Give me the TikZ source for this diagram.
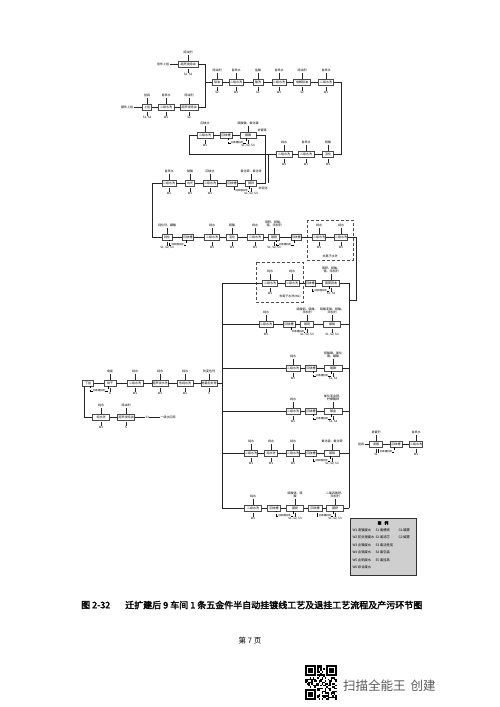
\documentclass[tikz,border=0pt]{standalone}
\usepackage{fontspec}
\newfontfamily\cjk{Noto Sans CJK SC}
\newfontfamily\cjkb[FakeBold=2.5]{Noto Sans CJK SC}
\usetikzlibrary{calc}
\newcommand{\procbox}[7]{%
  \node[pbox, minimum width=#4pt] (#1) at (#2,#3) {#5};
  \if\relax\detokenize{#6}\relax\else
    \node[lbl, anchor=south] (#1u) at (#2,#3-9.5) {#6};
    \draw[cl] (#1u.south) -- (#1.north);
  \fi
  \if\relax\detokenize{#7}\relax\else
    \node[lbl, anchor=north] (#1d) at (#2,#3+9) {#7};
    \draw[cl] (#1.south) ++(0,1.2) -- (#1d.north);
  \fi}
\newcommand{\recloop}[2]{%
  \draw[dl] ([xshift=-2pt]#1.south) -- ++(0,4.5) -| node[looptext, pos=0.25]{回收槽回用} ([xshift=2pt]#2.south);}
\begin{document}
\begin{tikzpicture}[x=1pt,y=-1pt,
  pbox/.style={draw=black!70, line width=0.8pt, fill=white, minimum height=6pt, inner sep=0.4pt, font=\cjk\fontsize{3}{3.4}\selectfont},
  lbl/.style={inner sep=0.3pt, align=center, font=\cjk\fontsize{3}{3.6}\selectfont},
  cl/.style={line width=0.6pt, draw=black!85},
  dl/.style={densely dashed, line width=0.35pt},
  looptext/.style={inner sep=0.2pt, font=\cjk\fontsize{2.4}{2.6}\selectfont, fill=white},
  dbox/.style={densely dashed, line width=0.45pt, draw=black!70},
  lg/.style={anchor=west, inner sep=0.3pt, font=\cjk\fontsize{3.3}{3.6}\selectfont}
]
\fill[white] (0,0) rectangle (499,707);
\useasboundingbox (0,0) rectangle (499,707);

% ---------- Row A ----------
\node[lbl] (a0) at (163,64) {挂件上挂};
\procbox{a1}{188}{64}{20}{超声波除油}{除油剂}{S1, S2}
\draw[cl] (a0) -- (a1);
% ---------- Row B ----------
\node[lbl] (b0) at (127,107) {镀件上挂};
\procbox{b1}{147}{107}{9}{上挂}{挂具}{S1, S2}
\procbox{b2}{166}{107}{16}{二级水洗}{自来水}{W1}
\procbox{b3}{189}{107}{18}{超声波除油}{除油剂}{S2}
\draw[cl] (b0)--(b1) (b1)--(b2) (b2)--(b3);
\coordinate (v1) at (205,64); \coordinate (v2) at (205,107); \coordinate (v3) at (205,82);
\draw[cl] (a1) -- (v1) -- (v2) -- (b3);
% ---------- Row C ----------
\procbox{c1}{217}{82}{10}{除油}{除油剂}{S2}
\procbox{c2}{236}{82}{14}{二级水洗}{自来水}{W1}
\procbox{c3}{258}{82}{10}{酸洗}{盐酸}{G1}
\procbox{c4}{279}{82}{14}{二级水洗}{自来水}{W1}
\procbox{c5}{302}{82}{17}{电解除油}{除油剂}{S2}
\procbox{c6}{326}{82}{15}{二级水洗}{自来水}{W1}
\draw[cl] (v3)--(c1) (c1)--(c2) (c2)--(c3) (c3)--(c4) (c4)--(c5) (c5)--(c6);
\coordinate (v4) at (341,82); \coordinate (v5) at (341,154);
% ---------- Row D ----------
\procbox{d1}{328}{154}{11}{活化}{硫酸}{W1}
\procbox{d2}{306}{154}{16}{二级水洗}{自来水}{W1}
\procbox{d3}{284}{154}{16}{二级水洗}{纯水}{W1}
\draw[cl] (c6)--(v4)--(v5)--(d1);
\draw[cl] (d1)--(d2) (d2)--(d3);
\coordinate (v6) at (189,154); \coordinate (v7) at (189,135);
\coordinate (v8) at (268,154); \coordinate (v9) at (268,183);
% ---------- Row E ----------
\procbox{e1}{205}{135}{16}{二级水洗}{回收水}{W1}
\procbox{e2}{226}{135}{12}{回收槽}{}{}
\procbox{e3}{248}{135}{16}{镀镍}{硫酸镍、氯化镍}{S1, S2, S3}
\draw[cl] (d3)--(v6)--(v7)--(e1);
\draw[cl] (v8)--(v9);
\draw[cl] (e1)--(e2) (e2)--(e3);
\recloop{e3}{e2}
\coordinate (v10) at (265,135); \coordinate (v11) at (265,183);
\node[lbl] (e4) at (262,130) {去镀铬};
% ---------- Row F ----------
\procbox{f5}{251}{183}{11}{镀锌}{氯化钾、氯化锌}{S1, S2, S3}
\procbox{f4}{232}{183}{11}{回收槽}{}{}
\procbox{f3}{210}{183}{14}{二级水洗}{回收水}{W1}
\procbox{f2}{190}{183}{9}{出光}{硝酸}{W1}
\procbox{f1}{169}{183}{14}{二级水洗}{自来水}{W1}
\draw[cl] (e3)--(v10)--(v11)--(f5);
\draw[cl] (f5)--(f4) (f4)--(f3) (f3)--(f2) (f2)--(f1);
\recloop{f5}{f4}
\node[lbl] (f6) at (263,188) {去钝化};
\coordinate (v12) at (152,183); \coordinate (v13) at (152,237);
% ---------- Row G ----------
\procbox{g1}{167}{237}{10}{钝化}{钝化剂、硼酸}{S1, S2, S3}
\procbox{g2}{188}{237}{11}{回收槽}{}{}
\procbox{g3}{212}{237}{15}{二级水洗}{纯水}{W1}
\procbox{g4}{232}{237}{11}{活化}{硫酸}{W1}
\procbox{g5}{255}{237}{16}{二级水洗}{纯水}{W1}
\procbox{g6}{274}{237}{11}{镀铬}{铬酐、硫酸、\\铬、添加剂}{S1, S2, S3}
\procbox{g7}{296}{237}{10}{回收槽}{}{}
\draw[dbox] (307,220) rectangle (353,260);
\procbox{g8}{319}{237}{12}{二级水洗}{纯水}{W1}
\procbox{g9}{341}{237}{12}{二级水洗}{纯水}{W1}
\node[lbl] (g10) at (330,256) {去离子水洗};
\draw[cl] (f1)--(v12)--(v13)--(g1);
\draw[cl] (g1)--(g2) (g2)--(g3) (g3)--(g4) (g4)--(g5) (g5)--(g6) (g6)--(g7) (g7)--(g8) (g8)--(g9);
\recloop{g2}{g1}
\recloop{g7}{g6}
\coordinate (v14) at (356,237); \coordinate (v15) at (356,300); \coordinate (v16) at (349,300);
\draw[cl] (g9)--(v14)--(v15)--(v16);
% ---------- spine and collector ----------
\coordinate (s1) at (222,283); \coordinate (s2) at (222,324); \coordinate (s3) at (222,368);
\coordinate (s4) at (222,411); \coordinate (s5) at (222,453); \coordinate (s6) at (222,508);
\coordinate (s7) at (222,383);
\coordinate (r1) at (349,283); \coordinate (r2) at (349,324); \coordinate (r3) at (349,368);
\coordinate (r4) at (349,411); \coordinate (r5) at (349,453); \coordinate (r6) at (349,508);
\draw[cl] (s1)--(s6);
\draw[cl] (r1)--(r6);
% ---------- Row H ----------
\draw[dbox] (256,262) rectangle (303,302);
\procbox{h1}{270}{283}{15}{二级水洗}{纯水}{W1}
\procbox{h2}{292}{283}{14}{二级水洗}{纯水}{}
\procbox{h3}{310}{283}{9}{回收槽}{}{}
\procbox{h4}{331}{283}{17}{铬雾回收}{铬酐、硫酸、\\铬、添加剂}{S1, S2}
\node[lbl] (h5) at (290,296.5) {去离子水洗(W1)};
\draw[cl] (s1)--(h1) (h1)--(h2) (h2)--(h3) (h3)--(h4) (h4)--(r1);
\recloop{h4}{h3}
% ---------- Row I ----------
\procbox{i1}{266}{324}{14}{二级水洗}{纯水}{W1}
\procbox{i2}{289}{324}{12}{回收槽}{}{}
\procbox{i3}{307}{324}{13}{镀铜}{硫酸铜、硫酸、\\添加剂}{S1, S2, S3}
\procbox{i4}{332}{324}{17}{镀锡}{硫酸亚锡、硫酸、\\添加剂}{S1, S2, S3}
\draw[cl] (s2)--(i1) (i1)--(i2) (i2)--(i3) (i3)--(i4) (i4)--(r2);
\recloop{i3}{i2}
% ---------- Row J ----------
\procbox{j1}{293}{368}{14}{二级水洗}{纯水}{W1}
\procbox{j2}{311}{368}{11}{回收槽}{}{}
\procbox{j3}{333}{368}{18}{镀镍}{硫酸镍、氯化\\镍、硼酸}{S1, S2}
\draw[cl] (s3)--(j1) (j1)--(j2) (j2)--(j3) (j3)--(r3);
\recloop{j3}{j2}
% ---------- Row K ----------
\procbox{k1}{293}{411}{14}{二级水洗}{纯水}{W1}
\procbox{k2}{311}{411}{11}{回收槽}{}{}
\procbox{k3}{333}{411}{18}{镀金}{氰化亚金钾、\\柠檬酸钾}{S1, S2}
\draw[cl] (s4)--(k1) (k1)--(k2) (k2)--(k3) (k3)--(r4);
\recloop{k3}{k2}
% ---------- Row L ----------
\procbox{l1}{251}{453}{13}{二级水洗}{纯水}{W1}
\procbox{l2}{271}{453}{13}{纯水洗}{纯水}{W1}
\procbox{l3}{293}{453}{13}{二级水洗}{纯水}{W1}
\procbox{l4}{311}{453}{11}{回收槽}{}{}
\procbox{l5}{332}{453}{15}{镀银}{氰化银、氰化钾}{S1, S2, S3}
\draw[cl] (s5)--(l1) (l1)--(l2) (l2)--(l3) (l3)--(l4) (l4)--(l5) (l5)--(r5);
\recloop{l5}{l4}
% ---------- Row M ----------
\procbox{m1}{253}{508}{17}{二级水洗}{纯水}{W1}
\procbox{m2}{274}{508}{13}{回收槽}{}{}
\procbox{m3}{295}{508}{17}{镀铑}{硫酸铑、硫\\酸}{S1, S2, S3}
\procbox{m4}{315}{508}{14}{回收槽}{}{}
\procbox{m5}{335}{508}{17}{镀钯}{二氯四氨钯、\\添加剂}{S1, S2, S3}
\draw[cl] (s6)--(m1) (m1)--(m2) (m2)--(m3) (m3)--(m4) (m4)--(m5) (m5)--(r6);
\recloop{m3}{m2}
\recloop{m5}{m4}
% ---------- Row N ----------
\procbox{n1}{88}{383}{11}{下挂}{}{}
\procbox{n2}{110}{383}{12}{烘干}{电能}{G}
\procbox{n3}{135}{383}{16}{二级水洗}{纯水}{W1}
\procbox{n4}{160}{383}{16}{超声波水洗}{纯水}{W1}
\procbox{n5}{185}{383}{16}{热纯水洗}{纯水}{W1}
\procbox{n6}{209}{383}{15}{电镀后处理}{防变色剂}{S}
\draw[cl] (s7)--(n6) (n6)--(n5) (n5)--(n4) (n4)--(n3) (n3)--(n2) (n2)--(n1);
\recloop{n2}{n1}
\coordinate (v20) at (84.5,386); \coordinate (v21) at (84.5,417);
% ---------- Row O ----------
\procbox{o1}{101}{417}{17}{纯水洗}{纯水}{W1}
\procbox{o2}{126}{417}{17}{超声波除油}{除油剂}{S}
\node[lbl, anchor=west] (o3) at (145,417) {S1};
\node[lbl, anchor=west] (o4) at (160,417) {一级水回用};
\draw[cl] (v20)--(v21)--(o1);
\draw[cl] (o1)--(o2) (o2)--(o3) (o3)--(o4);
% ---------- Stripping line ----------
\node[lbl] (p0) at (361,444) {挂具};
\procbox{p1}{376}{444}{13}{退镀}{退镀剂}{S1}
\procbox{p2}{396}{444}{12}{回收槽}{}{}
\procbox{p3}{416}{444}{13}{二级水洗}{自来水}{W1}
\draw[cl] (p0)--(p1) (p1)--(p2) (p2)--(p3);
\recloop{p2}{p1}
% ---------- Legend ----------
\node[draw=black!80, line width=0.8pt, fill=gray!38, minimum width=66pt, minimum height=57pt, inner sep=0pt] (lgbox) at (383,546.5) {};
\node[font=\cjkb\fontsize{3.8}{4}\selectfont] (lgt) at (383,523) {图\hspace{3pt}例};
\node[lg] (lw1) at (352,530) {W1 退镀废水};
\node[lg] (lw2) at (352,537) {W2 前处理废水};
\node[lg] (lw3) at (352,545) {W3 含镍废水};
\node[lg] (lw4) at (352,552) {W4 含铬废水};
\node[lg] (lw5) at (352,560) {W5 含铜废水};
\node[lg] (lw6) at (352,567) {W6 综合废水};
\node[lg] (ls1) at (375,530) {S1 废槽液};
\node[lg] (ls2) at (375,537) {S2 废滤芯};
\node[lg] (ls3) at (375,545) {S3 废活性炭};
\node[lg] (ls4) at (375,552) {S4 废包装};
\node[lg] (ls5) at (375,560) {S5 废挂具};
\node[lg] (lg1) at (398,530) {G1 酸雾};
\node[lg] (lg2) at (398,537) {G2 碱雾};
% ---------- Caption ----------
\node[anchor=west, inner sep=0pt, font=\cjkb\fontsize{9}{10}\selectfont] (cap1) at (81,605) {图 2-32};
\node[anchor=west, inner sep=0pt, font=\cjkb\fontsize{9}{10}\selectfont] (cap2) at (125,605) {迁扩建后 9 车间 1 条五金件半自动挂镀线工艺及退挂工艺流程及产污环节图};
\node[inner sep=0pt, font=\cjk\fontsize{7.5}{8}\selectfont] (pg) at (250,641) {第 7 页};
% ---------- Scanner watermark ----------
\pgfmathsetseed{5}
\foreach \i in {0,...,20}{\foreach \j in {0,...,22}{%
  \pgfmathsetmacro{\qrv}{rnd}%
  \ifdim\qrv pt>0.52pt \fill (305+\i*1.5,665+\j*1.5) rectangle ++(1.5,1.5);\fi}}
\foreach \fx/\fy in {305/665, 326/665, 305/689}{%
  \fill[white] (\fx-1.5,\fy-1.5) rectangle ++(13.5,13.5);
  \fill[black] (\fx,\fy) rectangle ++(10.5,10.5);
  \fill[white] (\fx+1.5,\fy+1.5) rectangle ++(7.5,7.5);
  \fill[black] (\fx+3,\fy+3) rectangle ++(4.5,4.5);}
\node[anchor=west, inner sep=0pt, text=black!65, font=\cjk\fontsize{12.5}{13}\selectfont] (wm) at (343,686) {扫描全能王\hspace{5pt}创建};
\end{tikzpicture}
\end{document}
